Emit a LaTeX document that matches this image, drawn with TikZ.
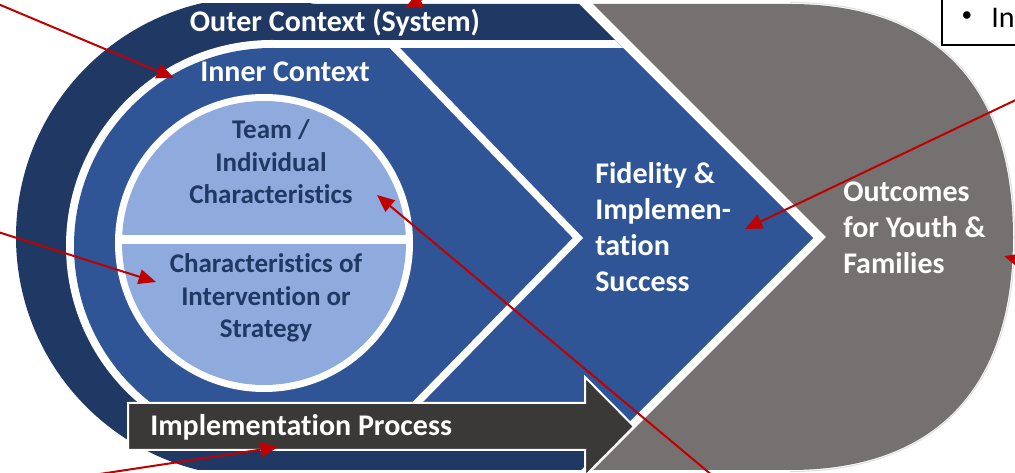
\documentclass[tikz,border=0pt]{standalone}
\usepackage{fontspec}
\setmainfont{Carlito}[Ligatures=CommonOff]
\usetikzlibrary{arrows.meta}
\definecolor{navy}{HTML}{203864}
\definecolor{midblue}{HTML}{2F5597}
\definecolor{lightblue}{HTML}{8FAADC}
\definecolor{graybg}{HTML}{767171}
\definecolor{darkarrow}{HTML}{3B3838}
\definecolor{redline}{HTML}{C00000}
\definecolor{circtext}{HTML}{1F3864}
\begin{document}
\begin{tikzpicture}[x=0.75pt,y=-0.75pt,
  bigtext/.style={font=\bfseries\fontsize{22.5}{27}\selectfont, text=white, inner sep=0pt},
  circtxt/.style={font=\bfseries\fontsize{20.25}{24.4}\selectfont, text=circtext, align=center, inner sep=0pt},
  redarrow/.style={draw=redline, line width=1.5pt, -{Triangle[length=13pt,width=11pt]}},
]
\useasboundingbox (0,0) rectangle (1015,473);
\clip (0,0) rectangle (1015,473);

% gray outcomes shape
\fill[graybg] (593,4) -- (790,4) .. controls (935,4) and (1013,86) .. (1013,237)
  .. controls (1013,388) and (935,470) .. (790,470) -- (593,470) -- (826,237) -- cycle;
\draw[gray!25, line width=0.8pt] (790,2.5) .. controls (936,2.5) and (1014.5,86) .. (1014.5,237)
  .. controls (1014.5,388) and (936,471.5) .. (790,471.5);

% outer navy context
\begin{scope}
\clip (0,4) rectangle (1015,470);
\fill[navy] (256,237) circle[radius=240];
\fill[navy] (256,4) -- (579,4) -- (813,238) -- (581,470) -- (256,470) -- cycle;
\end{scope}

% white separation ring
\begin{scope}
\clip (0,40) -- (615,40) -- (813,238) -- (603,448) -- (0,448) -- cycle;
\fill[white] (272,246) circle[radius=206];
\fill[white] (272,40) rectangle (900,448);
\end{scope}

% inner blue
\begin{scope}
\clip (0,48) -- (623,48) -- (813,238) -- (603,448) -- (0,448) -- cycle;
\fill[midblue] (272,246) circle[radius=198];
\fill[midblue] (272,48) rectangle (900,448);
\end{scope}

% inner chevron separator
\draw[white, line width=5.5pt, line join=miter] (391,44) -- (578,238) -- (408,412);

% circle
\fill[white] (264,243) circle[radius=149];
\fill[lightblue] (264,243) circle[radius=142];
\fill[white] (116,235.5) rectangle (412,244.5);

% implementation arrow
\draw[white, line width=1.5pt, fill=darkarrow, line join=miter]
  (128,403) -- (585,403) -- (585,377) -- (634,426.5) -- (585,476) -- (585,450) -- (128,450) -- cycle;

% texts
\node[bigtext] (outer) at (335,23) {Outer Context (System)};
\node[bigtext] (inner) at (285,72) {Inner Context};
\node[circtxt] (team) at (271,162) {Team /\\Individual\\Characteristics};
\node[circtxt] (charint) at (266,298) {Characteristics of\\Intervention or\\Strategy};
\node[bigtext, align=left, anchor=west] (fid) at (595,227) {Fidelity \&\\Implemen-\\tation\\Success};
\node[bigtext, align=left, anchor=west] (outc) at (843,228) {Outcomes\\for Youth \&\\Families};
\node[bigtext, anchor=west] (impl) at (150,427) {Implementation Process};

% note box top right
\draw[black, line width=1.1pt, fill=white] (942,-10) rectangle (1030,45);
\node[font=\fontsize{16}{18}\selectfont, inner sep=0pt] (bul) at (967,17) {•};
\node[font=\fontsize{22.5}{27}\selectfont, inner sep=0pt, anchor=west] (notein) at (991,18) {In};

% red annotation arrows
\coordinate (a1s) at (-2,4);    \coordinate (a1e) at (174,78);
\coordinate (a2s) at (452,-16); \coordinate (a2e) at (405,8);
\coordinate (a3s) at (-2,232);  \coordinate (a3e) at (156,282);
\coordinate (a4s) at (713,476); \coordinate (a4e) at (377,195);
\coordinate (a5s) at (1022,97); \coordinate (a5e) at (745,229);
\coordinate (a6s) at (1045,268);\coordinate (a6e) at (1004,256);
\coordinate (a7s) at (80,477);  \coordinate (a7e) at (278,447);
\draw[redarrow] (a1s) -- (a1e);
\draw[redarrow] (a2s) -- (a2e);
\draw[redarrow] (a3s) -- (a3e);
\draw[redarrow] (a4s) -- (a4e);
\draw[redarrow] (a5s) -- (a5e);
\draw[redarrow] (a6s) -- (a6e);
\draw[redarrow] (a7s) -- (a7e);
\end{tikzpicture}
\end{document}
